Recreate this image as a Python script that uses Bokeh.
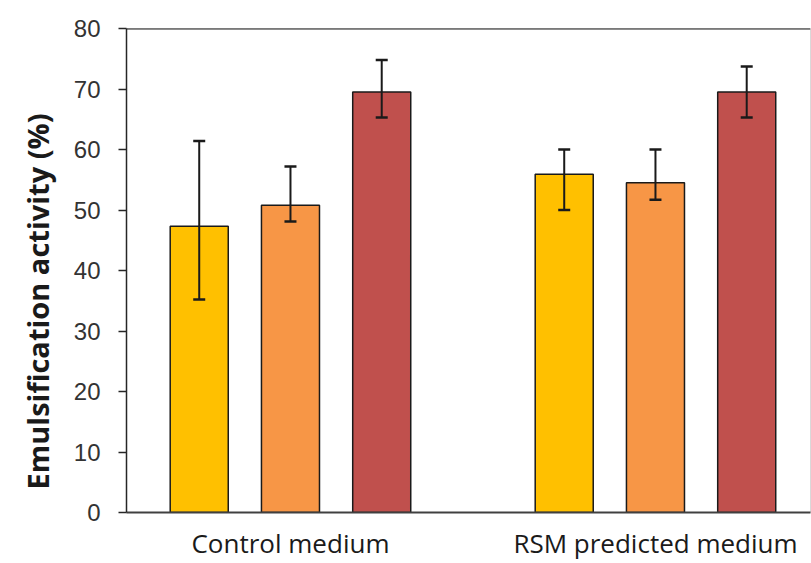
from bokeh.plotting import figure
from bokeh.models import ColumnDataSource, Whisker, TeeHead, FixedTicker, Span, Title
from bokeh.embed import file_html
from bokeh.resources import INLINE

groups = ["Control medium", "RSM predicted medium"]
group_pos = [0, 4]
series_colors = ["#FFC000", "#F79646", "#C0504D"]
series_offsets = [-1, 0, 1]

yellow_vals = [47.3, 55.9]
yellow_upper = [61.4, 60.0]
yellow_lower = [35.2, 50.0]

orange_vals = [50.8, 54.5]
orange_upper = [57.2, 60.0]
orange_lower = [48.1, 51.7]

red_vals = [69.5, 69.5]
red_upper = [74.8, 73.7]
red_lower = [65.3, 65.3]

y_ticks = [0, 10, 20, 30, 40, 50, 60, 70, 80]
y_title = "Emulsification activity (%)"

series = [
    (yellow_vals, yellow_upper, yellow_lower),
    (orange_vals, orange_upper, orange_lower),
    (red_vals, red_upper, red_lower),
]

p = figure(width=811, height=563, x_range=(-1.797, 5.699), y_range=(0, 80),
           output_backend="svg", toolbar_location=None,
           min_border_left=126, min_border_right=1, min_border_top=28, min_border_bottom=50)
p.outline_line_color = "#d9d9d9"
p.outline_line_width = 1
p.xgrid.visible = False
p.ygrid.visible = False
p.background_fill_color = "white"

for (vals, up, lo), col, off in zip(series, series_colors, series_offsets):
    xs = [g + off for g in group_pos]
    src = ColumnDataSource(dict(x=xs, top=vals, upper=up, lower=lo))
    p.vbar(x="x", top="top", bottom=0, width=0.636, source=src,
           fill_color=col, line_color="#1a1a1a", line_width=1.5)
    w = Whisker(base="x", upper="upper", lower="lower", source=src, level="overlay",
                line_color="#1a1a1a", line_width=2,
                upper_head=TeeHead(size=12, line_color="#1a1a1a", line_width=2.5),
                lower_head=TeeHead(size=12, line_color="#1a1a1a", line_width=2.5))
    p.add_layout(w)

p.add_layout(Span(location=80, dimension="width", line_color="#1a1a1a", line_width=2))

# y axis
p.yaxis.ticker = FixedTicker(ticks=y_ticks)
p.yaxis.axis_line_color = "#262626"
p.yaxis.axis_line_width = 1.5
p.yaxis.major_tick_line_color = "#262626"
p.yaxis.major_tick_line_width = 1.5
p.yaxis.major_tick_out = 8
p.yaxis.major_tick_in = 0
p.yaxis.minor_tick_line_color = None
p.yaxis.major_label_text_font = "Liberation Sans"
p.yaxis.major_label_text_font_size = "24px"
p.yaxis.major_label_text_color = "#333333"
p.yaxis.major_label_standoff = 18

p.add_layout(Title(text=y_title, align="left", offset=23, standoff=28,
                   text_font="Open Sans", text_font_style="bold", text_font_size="29px",
                   text_color="#1a1a1a"), "left")

# x axis
p.xaxis.ticker = FixedTicker(ticks=group_pos)
p.xaxis.major_label_overrides = {g: name for g, name in zip(group_pos, groups)}
p.xaxis.axis_line_color = "#404040"
p.xaxis.axis_line_width = 2
p.xaxis.major_tick_line_color = None
p.xaxis.major_tick_out = 0
p.xaxis.major_tick_in = 0
p.xaxis.minor_tick_line_color = None
p.xaxis.major_label_text_font = "Open Sans"
p.xaxis.major_label_text_font_size = "26px"
p.xaxis.major_label_text_color = "#1a1a1a"
p.xaxis.major_label_standoff = 12

open("out.html", "w").write(file_html(p, INLINE))
